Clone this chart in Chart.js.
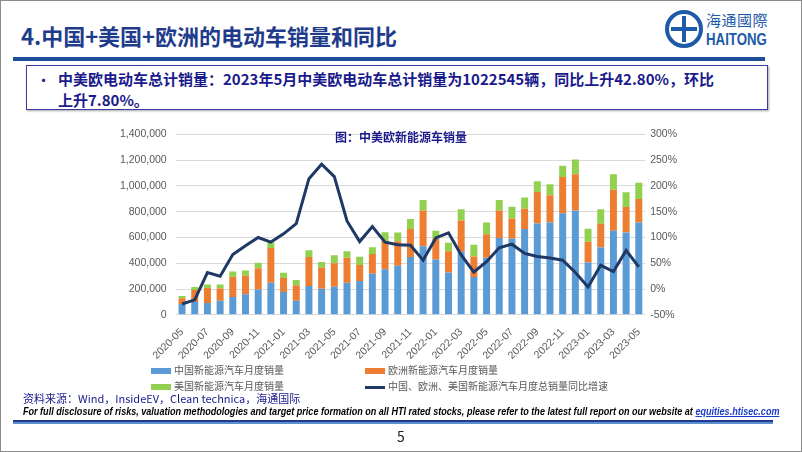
<!DOCTYPE html>
<html lang="zh">
<head>
<meta charset="UTF-8">
<title>中国+美国+欧洲的电动车销量和同比</title>
<script src="https://cdn.jsdelivr.net/npm/chart.js"></script>
<style>
    html, body { margin: 0; padding: 0; background: #fff; }
    #slide {
        position: relative;
        width: 800px; height: 450px;
        border: 1px solid #8c8c8c;
        overflow: hidden;
        font-family: "Noto Sans CJK SC", "Noto Sans", sans-serif;
    }
    .title {
        position: absolute; left: 20px; top: 18px;
        font-size: 22px; font-weight: bold; color: #1f3c8c;
    }
    .topbar { position: absolute; left: 12px; top: 56px; width: 752px; height: 4px; background: #1f4f99; }
    .logo-ring {
        position: absolute; left: 664px; top: 9px; width: 30px; height: 30px;
        border: 4px solid #1e5aa8; border-radius: 50%;
    }
    .logo-ring::before {
        content: ""; position: absolute; left: 13px; top: 2px; width: 4px; height: 26px; background: #1e5aa8;
    }
    .logo-ring::after {
        content: ""; position: absolute; left: 2px; top: 13px; width: 26px; height: 4px; background: #1e5aa8;
    }
    .logo-cn { position: absolute; left: 705px; top: 8px; font-size: 15px; color: #1e5aa8; letter-spacing: 0.5px; }
    .logo-en {
        position: absolute; left: 705px; top: 29px; font-size: 17px; font-weight: bold; color: #1e5aa8;
        font-family: "Liberation Sans", sans-serif; transform: scaleX(0.78); transform-origin: left top;
    }
    .box {
        position: absolute; left: 25px; top: 64px; width: 740px; height: 43px;
        border: 1px solid #3c3ca0; box-shadow: 1px 1px 2px rgba(0,0,0,0.35);
    }
    .box .bullet { position: absolute; left: 9px; top: 3px; font-size: 15px; color: #1a1a8c; }
    .box .txt {
        position: absolute; left: 31px; top: 2px; width: 705px; white-space: nowrap;
        font-size: 15px; font-weight: bold; color: #1a1a8c; line-height: 21px;
    }
    .chart-title {
        position: absolute; left: 0; width: 800px; top: 127px; text-align: center;
        font-size: 12px; font-weight: bold; color: #1a1a8c;
    }
    #chartWrap { position: absolute; left: 110px; top: 118px; width: 571px; height: 246px; }
    .legend { position: absolute; font-size: 10px; color: #595959; }
    .legend span.sw { display: inline-block; width: 20px; height: 6px; margin-right: 3px; vertical-align: middle; }
    .legend span.ln { display: inline-block; width: 20px; height: 3px; margin-right: 3px; vertical-align: middle; }
    .source { position: absolute; left: 22px; top: 389px; font-size: 11px; color: #1a1a8c; }
    .disc {
        position: absolute; left: 22px; top: 404px; font-size: 10.6px; color: #000;
        font-style: italic; font-weight: bold; font-family: "Liberation Sans", sans-serif; white-space: nowrap;
        transform: scaleX(0.855); transform-origin: left top;
    }
    .disc a { color: #1a3cc8; text-decoration: underline; }
    .botbar1 { position: absolute; left: 12px; top: 419px; width: 760px; height: 2px; background: #1f3c8c; }
    .botbar2 { position: absolute; left: 12px; top: 421px; width: 760px; height: 2px; background: #5b8fd0; }
    .pagenum { position: absolute; left: 0; width: 800px; top: 425px; text-align: center; font-size: 14px; color: #222; }
</style>
</head>
<body>
<div id="slide">
    <div class="title">4.中国+美国+欧洲的电动车销量和同比</div>
    <div class="logo-ring"></div>
    <div class="logo-cn">海通國際</div>
    <div class="logo-en">HAITONG</div>
    <div class="topbar"></div>

    <div class="box">
        <div class="bullet">•</div>
        <div class="txt">中美欧电动车总计销量：2023年5月中美欧电动车总计销量为1022545辆，同比上升42.80%，环比<br>上升7.80%。</div>
    </div>

    <div id="chartWrap"><canvas id="salesChart"></canvas></div>
    <div class="chart-title">图：中美欧新能源车销量</div>

    <div class="legend" style="left:150px; top:361px;"><span class="sw" style="background:#5b9bd5"></span>中国新能源汽车月度销量</div>
    <div class="legend" style="left:364px; top:361px;"><span class="sw" style="background:#ed7d31"></span>欧洲新能源汽车月度销量</div>
    <div class="legend" style="left:150px; top:377px;"><span class="sw" style="background:#92d050"></span>美国新能源汽车月度销量</div>
    <div class="legend" style="left:364px; top:377px;"><span class="ln" style="background:#1f3864"></span>中国、欧洲、美国新能源汽车月度总销量同比增速</div>

    <div class="source">资料来源：Wind，InsideEV，Clean technica，海通国际</div>
    <div class="disc">For full disclosure of risks, valuation methodologies and target price formation on all HTI rated stocks, please refer to the latest full report on our website at <a>equities.htisec.com</a></div>
    <div class="botbar1"></div>
    <div class="botbar2"></div>
    <div class="pagenum">5</div>
</div>

<script>
    // 月份
    const months = ['2020-05','2020-06','2020-07','2020-08','2020-09','2020-10','2020-11','2020-12',
        '2021-01','2021-02','2021-03','2021-04','2021-05','2021-06','2021-07','2021-08','2021-09','2021-10','2021-11','2021-12',
        '2022-01','2022-02','2022-03','2022-04','2022-05','2022-06','2022-07','2022-08','2022-09','2022-10','2022-11','2022-12',
        '2023-01','2023-02','2023-03','2023-04','2023-05'];

    // 月度销量（辆）
    const chinaSales = [84000, 99000, 91000, 109000, 139000, 160000, 197000, 248000,
        177000, 109000, 223000, 203000, 218000, 248000, 263000, 319000, 354000, 380000, 448000, 532000,
        430000, 329000, 489000, 294000, 443000, 595000, 590000, 666000, 709000, 717000, 787000, 810000,
        405000, 522000, 653000, 638000, 717000];
    const europeSales = [45000, 93000, 117000, 96000, 157000, 144000, 165000, 271000,
        109000, 121000, 225000, 162000, 182000, 195000, 124000, 152000, 221000, 190000, 218000, 278000,
        160000, 165000, 243000, 159000, 182000, 215000, 157000, 157000, 243000, 210000, 281000, 281000,
        162000, 184000, 317000, 198000, 182000];
    const usSales = [18000, 23000, 27000, 30000, 41000, 40000, 41000, 41000,
        41000, 41000, 53000, 45000, 63000, 51000, 64000, 53000, 66000, 68000, 78000, 81000,
        63000, 66000, 86000, 91000, 92000, 81000, 91000, 86000, 84000, 86000, 89000, 114000,
        101000, 112000, 121000, 114000, 126000];

    // 总销量同比增速（%）
    const yoyGrowth = [-29, -21, 32, 25, 67, 84, 100, 91,
        107, 127, 214, 242, 218, 132, 92, 121, 91, 86, 85, 56,
        99, 109, 66, 33, 53, 80, 87, 69, 63, 60, 56, 32,
        4, 46, 34, 75, 43];

    const tickColor = '#595959';
    const tickFont = { family: 'Liberation Sans, sans-serif', size: 10.5 };

    const ctx = document.getElementById('salesChart').getContext('2d');
    new Chart(ctx, {
        type: 'bar',
        data: {
            labels: months,
            datasets: [{
                type: 'line',
                label: '中国、欧洲、美国新能源汽车月度总销量同比增速',
                data: yoyGrowth,
                yAxisID: 'y1',
                borderColor: '#1f3864',
                borderWidth: 3,
                pointRadius: 0,
                tension: 0,
                order: 0
            }, {
                label: '中国新能源汽车月度销量',
                data: chinaSales,
                backgroundColor: '#5b9bd5',
                stack: 's',
                order: 1
            }, {
                label: '欧洲新能源汽车月度销量',
                data: europeSales,
                backgroundColor: '#ed7d31',
                stack: 's',
                order: 1
            }, {
                label: '美国新能源汽车月度销量',
                data: usSales,
                backgroundColor: '#92d050',
                stack: 's',
                order: 1
            }]
        },
        options: {
            responsive: true,
            maintainAspectRatio: false,
            animation: false,
            datasets: { bar: { barPercentage: 0.55, categoryPercentage: 1 } },
            plugins: { legend: { display: false }, tooltip: { enabled: false } },
            layout: { padding: { top: 6, right: 0 } },
            scales: {
                x: {
                    stacked: true,
                    grid: { display: false },
                    border: { display: false },
                    ticks: {
                        color: tickColor, font: tickFont,
                        autoSkip: false, maxRotation: 45, minRotation: 45,
                        callback: function (v, i) { return i % 2 === 0 ? months[i] : ''; }
                    }
                },
                y: {
                    stacked: true,
                    min: 0, max: 1400000,
                    grid: { color: '#d9d9d9', drawTicks: false },
                    border: { display: false },
                    ticks: {
                        stepSize: 200000, color: tickColor, font: tickFont, padding: 9,
                        callback: v => v.toLocaleString('en-US')
                    }
                },
                y1: {
                    position: 'right',
                    min: -50, max: 300,
                    grid: { display: false, drawTicks: false },
                    border: { display: false },
                    ticks: { stepSize: 50, color: tickColor, font: tickFont, padding: 5, callback: v => v + '%' }
                }
            }
        }
    });
</script>
</body>
</html>
